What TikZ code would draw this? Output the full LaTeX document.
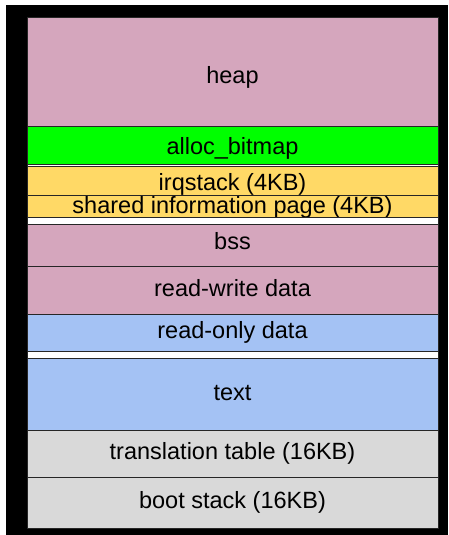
\documentclass[tikz,border=0pt]{standalone}
\usepackage{fontspec}
\setmainfont{Liberation Sans}
\definecolor{heappink}{HTML}{D5A6BD}
\definecolor{bitgreen}{HTML}{00FF00}
\definecolor{irqyellow}{HTML}{FFD966}
\definecolor{roblue}{HTML}{A4C2F4}
\definecolor{tblgray}{HTML}{D9D9D9}
\definecolor{edge}{HTML}{262626}
\begin{document}
\begin{tikzpicture}[x=1pt,y=-1pt,
  seg/.style={draw=edge, line width=1pt, minimum width=411pt, inner sep=0pt, outer sep=0pt,
    font=\fontsize{23.5}{24}\selectfont, text=black, text height=16.9pt, text depth=4.9pt, anchor=center},
  gapbox/.style={draw=edge, line width=1pt, fill=white, minimum width=411pt, inner sep=0pt, outer sep=0pt, text height=0pt, text depth=0pt}]
\useasboundingbox (0,0) rectangle (448,535);
\fill[black] (6,5) rectangle (448,535);
\node[seg, fill=heappink, minimum height=108pt, text height=26.9pt] (heap) at (232.5,72) {heap};
\node[seg, fill=bitgreen, minimum height=38pt, text height=22.9pt] (bitmap) at (232.5,145) {alloc\_bitmap};
\node[gapbox, minimum height=5pt] (gapa) at (232.5,166.5) {};
\node[seg, fill=irqyellow, minimum height=24pt, text height=21.9pt] (shared) at (232.5,205) {shared information page (4KB)};
\node[seg, fill=irqyellow, minimum height=24pt, text height=23.9pt] (irq) at (232.5,181) {irqstack (4KB)};
\node[gapbox, minimum height=7pt] (gapb) at (232.5,220.5) {};
\node[seg, fill=heappink, minimum height=42pt, text depth=8.9pt] (bss) at (232.5,245) {bss};
\node[seg, fill=heappink, minimum height=48pt] (rw) at (232.5,290) {read-write data};
\node[seg, fill=roblue, minimum height=37pt] (ro) at (232.5,332.5) {read-only data};
\node[gapbox, minimum height=7pt] (gapc) at (232.5,354.5) {};
\node[seg, fill=roblue, minimum height=72pt] (txt) at (232.5,394) {text};
\node[seg, fill=tblgray, minimum height=47pt] (tt) at (232.5,453.5) {translation table (16KB)};
\node[seg, fill=tblgray, minimum height=51pt] (boot) at (232.5,502.5) {boot stack (16KB)};
\end{tikzpicture}
\end{document}
